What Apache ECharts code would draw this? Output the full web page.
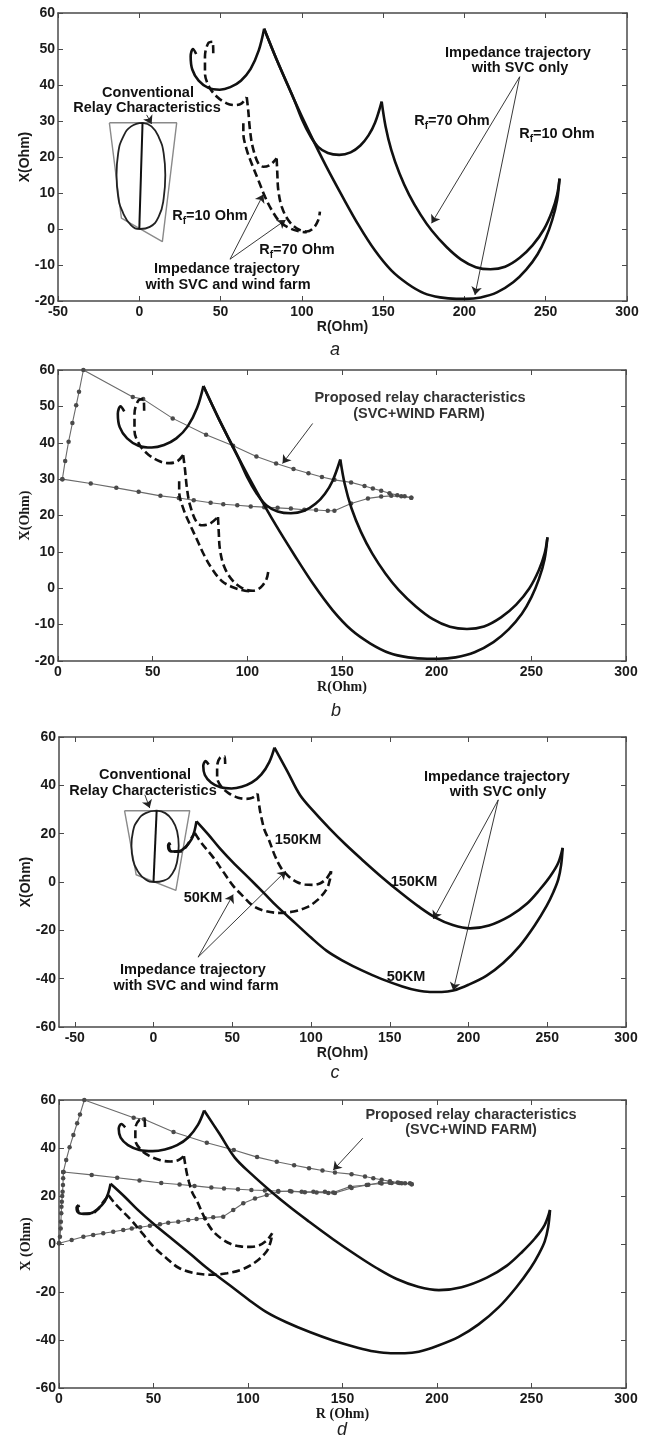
<!DOCTYPE html>
<html>
<head>
<meta charset="utf-8">
<script src="https://cdn.jsdelivr.net/npm/echarts@6/dist/echarts.min.js"></script>
<style>
  html, body { margin: 0; padding: 0; background: #fff; }
  #chart { width: 656px; height: 1445px; }
</style>
</head>
<body>
<div id="chart"></div>
<script>
// ---- trajectories of panels a / b (Rf = 10 and 70 Ohm) ----
var solidHook = [[35,48.6],[33,50],[31.6,48],[32.6,44.3],[36.5,41.2],[42.5,39.2],[49.5,38.7],[56,39.4],[62.5,41.2],[68.5,44.5],[73.5,49.6],[76.8,55.6]];
var svcRf10 = [[76.8,55.6],[85,46.5],[95,36.2],[105,26.5],[115,17.4],[125,9],[135,1],[145,-6],[155,-11.5],[165,-15.2],[175,-17.8],[185,-19],[195,-19.4],[201,-19.4],[210,-19],[220,-17.6],[230,-14.8],[238,-11.3],[245,-7],[250,-2.5],[254,2.5],[257,8],[258.5,14]];
var svcRf70a = [[76.8,55.6],[85,46.5],[95,36.2],[100,30.5],[105,26],[110,22.8],[116,21.1],[123,20.6],[130,21.3],[136,23.2],[141,26],[145,29.5],[149.1,35.4]];
var svcRf70b = [[149.1,35.4],[151.5,28.5],[155,22],[160,15.5],[166,9.5],[173,4],[180,-0.5],[189,-5],[198,-8.5],[207,-10.6],[216,-11.2],[225,-10.5],[234,-8],[242,-4.5],[249,0],[254,5],[257,9.5],[258.5,14]];
var dashHook = [[45.5,48.8],[45.1,52],[42.4,51.6],[40.4,47.9],[40.4,43.3],[43,39.5],[47.6,36.8],[53.7,34.9],[58.9,34.4],[63,34.9],[66.1,36.6]];
var windRf70a = [[66.1,36.6],[67,33],[68.1,27.5],[69.7,22.9],[73.2,18.2],[76.3,17.3],[80.4,17.8],[84.5,19.6]];
var windRf70b = [[84.5,19.6],[84.9,15.5],[85.5,10.8],[87.6,6.2],[91.6,2.5],[96.8,0.2],[102.9,-0.7],[107,0.2],[110.1,2.5],[111.1,4.8]];
var windRf10 = [[64,29.4],[64,26.6],[66.1,22],[69.1,18.2],[73.2,13.6],[77.3,9],[81.4,5.3],[86.5,2],[92.7,0.2],[98.8,-0.7],[103,-0.9]];

// ---- trajectories of panels c / d (50 km and 150 km) ----
var km150Solid = [[76.8,55.6],[85,45.8],[93,36],[102,29],[112,22],[122,15.5],[132,9.5],[145,2],[158,-5],[168,-10],[178.7,-14.6],[190,-17.8],[201,-19.2],[213,-18],[226.4,-14],[237,-9],[245.4,-3],[252,2.5],[257,8],[259.8,14.2]];
var km50Hook = [[10.4,16.2],[9.3,15.2],[9.6,13.6],[12,12.6],[16.7,12.8],[20.5,14.6],[24.1,17.6],[26,21],[27.3,25.1]];
var km50Solid = [[27.3,25.1],[35,19.5],[42,14],[50.6,8],[60,2],[70,-4.5],[78.1,-9.9],[90,-17],[100,-23],[110,-28.5],[120,-32.5],[133,-36.8],[145,-40.2],[158,-43.2],[167,-44.8],[175.5,-45.5],[183,-45.5],[190.3,-44.9],[200,-42.5],[211.5,-38.7],[222,-33.5],[232.7,-26.3],[242,-18],[249.6,-9.9],[254,-4],[257,1.1],[258.8,7],[259.8,14]];
var km150Dash = [[66.1,36.6],[67.5,30],[68.8,25.8],[70.5,21.5],[73.2,17.6],[77,11],[81,5.8],[85.5,2.5],[91,0],[96,-1],[101.5,-1.2],[106,-0.5],[109.5,1.2],[111.5,3],[112.8,4.5]];
var km50DashHook = [[11,16],[9.8,15.2],[10.2,13.6],[12.5,12.5],[17,12.6],[21,14.8],[23.5,17.6],[26.2,20.3]];
var km50Dash = [[26.2,20.3],[30,16.5],[37.9,10.2],[44,4.5],[50.6,-1.6],[57,-6],[63.3,-9.9],[71,-12],[80.3,-12.8],[89,-12.2],[97.2,-10.5],[104,-7.5],[109.9,-3],[112,1],[112.8,4.5]];

// ---- conventional relay characteristic ----
var mhoTrap = [[-18.4,29.5],[23,29.5],[14.2,-3.5],[-11,3],[-18.4,29.5]];
var mhoCircle = [[2,29.5],[7.5,28.5],[12,25.5],[15,21],[16,15],[15,8.5],[12,3.5],[6.5,0.6],[0.5,0],[-5,1],[-10,4.5],[-13,9],[-14,15],[-13,21],[-10,25.5],[-5,28.5],[2,29.5]];
var mhoLine = [[0,0],[2,29.5]];

// ---- proposed relay characteristic (SVC + wind farm) ----
var relayTop = [[2.3,30],[3.8,35],[5.6,40.3],[7.6,45.4],[9.6,50.3],[11.1,54],[13.4,60],[39.5,52.6],[45,52],[60.6,46.7],[78.2,42.2],[92.5,39.2],[104.8,36.2],[115.2,34.3],[124.4,32.8],[132.3,31.6],[139.4,30.6],[146,29.8],[154.8,29.1],[161.9,28.1],[166.3,27.4],[170.7,26.8],[175.1,26.1],[179.2,25.6],[183.1,25.3],[186.6,24.9]];
var relayMid = [[2.3,30],[17.3,28.8],[30.8,27.6],[42.6,26.5],[54.1,25.4],[63.8,24.8],[71.7,24.2],[80.6,23.5],[87.3,23.1],[94.7,22.8],[101.8,22.5],[108.9,22.3],[116,22.1],[123,21.9],[130.1,21.6],[136.3,21.5],[142.5,21.3],[146,21.3],[154.8,23.3],[163.7,24.7],[170.7,25.2],[176,25.4],[181.3,25.3],[186.6,24.9]];
var relayLow = [[0,0.3],[6.7,1.7],[12.9,3],[18.1,3.8],[23.4,4.5],[28.7,5.1],[34,5.8],[38.5,6.5],[42.9,7],[48.1,7.6],[53.4,8.2],[57.8,8.9],[63.1,9.3],[68.4,10],[72.8,10.4],[77.2,10.7],[81.6,11.1],[86.9,11.4],[92.2,14.2],[97.5,17],[103.7,19],[109.9,20.4],[116,21.8],[122.2,22.1],[128.4,21.8],[134.6,21.8],[140.7,21.8],[145.1,21.5],[154,23.9],[162.8,24.6],[169.8,25.5],[175,25.5],[180,25.4],[185.7,25.3]];
var relayAxis = [[0,0.3],[0.5,3],[0.9,6.5],[1,9.3],[1.2,12.8],[1.3,15.5],[1.5,17.6],[1.7,20],[1.9,21.8],[2.1,24.6],[2.2,27.4],[2.3,30]];

// ---- annotation arrows [from, to] in data units ----
var arrowsA = [[[4.5,31.7],[7.6,29.2]], [[234,42.3],[179.8,1.6]], [[234,42.3],[206.5,-18.3]], [[55.8,-8.4],[76.3,9.6]], [[55.8,-8.4],[90,2.5]]];
var arrowsB = [[[134.5,45.3],[118.6,34.3]]];
var arrowsC = [[[-5.5,36.1],[-2.4,30.6]], [[28.3,-31.1],[50.6,-5.2]], [[28.3,-31.1],[84,4.5]], [[218.9,34],[177.7,-15.3]], [[218.9,34],[190.3,-44.9]]];
var arrowsD = [[[160.7,44.1],[145.1,30.8]]];

// ---- axes ----
var xTicksC = [-50, 0, 50, 100, 150, 200, 250, 300];

var SANS = '"Liberation Sans", Arial, sans-serif';
var SERIF = '"Liberation Serif", "Times New Roman", serif';

var grids = [
  { left: 58, top: 13, width: 569, height: 288 },
  { left: 58, top: 370, width: 568, height: 291 },
  { left: 59, top: 737, width: 567, height: 290 },
  { left: 59, top: 1100, width: 567, height: 288 }
];
var xRanges = [
  { min: -50, max: 300, interval: 50 },
  { min: 0, max: 300, interval: 50 },
  { min: -60, max: 300, custom: xTicksC },
  { min: 0, max: 300, interval: 50 }
];
var yRanges = [
  { min: -20, max: 60, interval: 10 },
  { min: -20, max: 60, interval: 10 },
  { min: -60, max: 60, interval: 20 },
  { min: -60, max: 60, interval: 20 }
];
var xNames = ['R(Ohm)', 'R(Ohm)', 'R(Ohm)', 'R (Ohm)'];
var yNames = ['X(Ohm)', 'X(Ohm)', 'X(Ohm)', 'X (Ohm)'];
var nameFonts = [SANS, SERIF, SANS, SERIF];

var lineCol = '#4a4a4a';
var xAxes = [], yAxes = [];
grids.forEach(function (g, i) {
  var xr = xRanges[i], yr = yRanges[i];
  var tick = { show: true, inside: true, length: 5, lineStyle: { color: lineCol, width: 1 } };
  var xb = {
    type: 'value', gridIndex: i, position: 'bottom', min: xr.min, max: xr.max,
    axisLine: { show: true, onZero: false, lineStyle: { color: lineCol, width: 1.5 } },
    axisTick: Object.assign({}, tick),
    splitLine: { show: false },
    axisLabel: { show: true, margin: 4, color: '#1a1a1a', fontSize: 14, fontWeight: 'bold', fontFamily: SANS, showMinLabel: true, showMaxLabel: true },
    name: xNames[i], nameLocation: 'middle', nameGap: 19,
    nameTextStyle: { color: '#1a1a1a', fontSize: 14, fontWeight: 'bold', fontFamily: nameFonts[i] }
  };
  var xt = {
    type: 'value', gridIndex: i, position: 'top', min: xr.min, max: xr.max,
    axisLine: { show: true, onZero: false, lineStyle: { color: lineCol, width: 1.5 } },
    axisTick: Object.assign({}, tick), axisLabel: { show: false }, splitLine: { show: false }
  };
  if (xr.custom) {
    xb.axisTick.customValues = xr.custom;
    xb.axisLabel.customValues = xr.custom;
    xt.axisTick.customValues = xr.custom;
  } else {
    xb.interval = xr.interval;
    xt.interval = xr.interval;
  }
  xAxes.push(xb, xt);
  yAxes.push({
    type: 'value', gridIndex: i, position: 'left', min: yr.min, max: yr.max, interval: yr.interval,
    axisLine: { show: true, onZero: false, lineStyle: { color: lineCol, width: 1.5 } },
    axisTick: Object.assign({}, tick), splitLine: { show: false },
    axisLabel: { show: true, margin: 3, color: '#1a1a1a', fontSize: 14, fontWeight: 'bold', fontFamily: SANS, showMinLabel: true, showMaxLabel: true },
    name: yNames[i], nameLocation: 'middle', nameGap: 26, nameRotate: 90, nameMoveOverlap: false,
    nameTextStyle: { color: '#1a1a1a', fontSize: 14, fontWeight: 'bold', fontFamily: nameFonts[i] }
  }, {
    type: 'value', gridIndex: i, position: 'right', min: yr.min, max: yr.max, interval: yr.interval,
    axisLine: { show: true, onZero: false, lineStyle: { color: lineCol, width: 1.5 } },
    axisTick: Object.assign({}, tick), axisLabel: { show: false }, splitLine: { show: false }
  });
});

// ---- series helpers ----
function curve(i, data, dashed) {
  return {
    type: 'line', xAxisIndex: i * 2, yAxisIndex: i * 2, data: data,
    symbol: 'none', smooth: 0.35, silent: true, z: 5,
    lineStyle: { color: '#111', width: 2.6, type: dashed ? [8, 4] : 'solid', cap: 'butt' }
  };
}
function thin(i, data, color, width, smooth) {
  return {
    type: 'line', xAxisIndex: i * 2, yAxisIndex: i * 2, data: data,
    symbol: 'none', smooth: smooth || false, silent: true, z: 3,
    lineStyle: { color: color, width: width }
  };
}
function dotted(i, data) {
  return {
    type: 'line', xAxisIndex: i * 2, yAxisIndex: i * 2, data: data,
    symbol: 'circle', symbolSize: 4.5, showAllSymbol: true, silent: true, z: 4,
    itemStyle: { color: '#4a4a4a' },
    lineStyle: { color: '#6a6a6a', width: 1.1 }
  };
}
function arrows(i, list) {
  return {
    type: 'line', xAxisIndex: i * 2, yAxisIndex: i * 2, data: [], silent: true,
    markLine: {
      silent: true, symbol: ['none', 'arrow'], symbolSize: 8, animation: false,
      label: { show: false },
      lineStyle: { color: '#222', width: 0.9, type: 'solid' },
      data: list.map(function (p) { return [{ coord: p[0] }, { coord: p[1] }]; })
    }
  };
}

var series = [];
// panel a
series.push(thin(0, mhoTrap, '#8a8a8a', 1.4), thin(0, mhoCircle, '#222', 1.8, 0.5), thin(0, mhoLine, '#111', 2));
series.push(curve(0, solidHook), curve(0, svcRf10), curve(0, svcRf70a), curve(0, svcRf70b));
series.push(curve(0, dashHook, true), curve(0, windRf70a, true), curve(0, windRf70b, true), curve(0, windRf10, true));
series.push(arrows(0, arrowsA));
// panel b
series.push(dotted(1, relayTop), dotted(1, relayMid));
series.push(curve(1, solidHook), curve(1, svcRf10), curve(1, svcRf70a), curve(1, svcRf70b));
series.push(curve(1, dashHook, true), curve(1, windRf70a, true), curve(1, windRf70b, true), curve(1, windRf10, true));
series.push(arrows(1, arrowsB));
// panel c
series.push(thin(2, mhoTrap, '#8a8a8a', 1.4), thin(2, mhoCircle, '#222', 1.8, 0.5), thin(2, mhoLine, '#111', 2));
series.push(curve(2, solidHook), curve(2, km150Solid), curve(2, km50Hook), curve(2, km50Solid));
series.push(curve(2, dashHook, true), curve(2, km150Dash, true), curve(2, km50DashHook, true), curve(2, km50Dash, true));
series.push(arrows(2, arrowsC));
// panel d
series.push(dotted(3, relayTop), dotted(3, relayMid), dotted(3, relayLow), dotted(3, relayAxis));
series.push(curve(3, solidHook), curve(3, km150Solid), curve(3, km50Hook), curve(3, km50Solid));
series.push(curve(3, dashHook, true), curve(3, km150Dash, true), curve(3, km50DashHook, true), curve(3, km50Dash, true));
series.push(arrows(3, arrowsD));

// ---- text annotations ----
var LBL = 'bold 14.5px ' + SANS;
function txt(x, y, s, font, color) {
  return { type: 'text', x: x, y: y, silent: true, z: 20,
    style: { text: s, font: font || LBL, fill: color || '#111', align: 'center', verticalAlign: 'middle' } };
}
function rfTxt(x, y, val) {
  return { type: 'text', x: x, y: y, silent: true, z: 20,
    style: {
      text: '{n|R}{s|f}{n|=' + val + ' Ohm}', align: 'center', verticalAlign: 'middle',
      rich: {
        n: { fontSize: 14.5, fontWeight: 'bold', fontFamily: SANS, fill: '#111', verticalAlign: 'top' },
        s: { fontSize: 10, fontWeight: 'bold', fontFamily: SANS, fill: '#111', verticalAlign: 'top', padding: [8, 0, 0, 0] }
      }
    } };
}
var capFont = 'italic 18px ' + SANS;
var graphic = [
  txt(148, 93, 'Conventional'), txt(147, 108, 'Relay Characteristics'),
  txt(518, 53, 'Impedance trajectory'), txt(520, 68, 'with SVC only'),
  rfTxt(452, 122, 70), rfTxt(557, 135, 10), rfTxt(210, 217, 10), rfTxt(297, 251, 70),
  txt(227, 269, 'Impedance trajectory'), txt(228, 285, 'with SVC and wind farm'),
  txt(335, 350, 'a', capFont, '#222'),

  txt(420, 398, 'Proposed relay characteristics', null, '#333'), txt(419, 414, '(SVC+WIND FARM)', null, '#333'),
  txt(336, 711, 'b', capFont, '#222'),

  txt(145, 775, 'Conventional'), txt(143, 791, 'Relay Characteristics'),
  txt(298, 840, '150KM'), txt(203, 898, '50KM'),
  txt(193, 970, 'Impedance trajectory'), txt(196, 986, 'with SVC and wind farm'),
  txt(497, 777, 'Impedance trajectory'), txt(498, 792, 'with SVC only'),
  txt(414, 882, '150KM'), txt(406, 977, '50KM'),
  txt(335, 1073, 'c', capFont, '#222'),

  txt(471, 1115, 'Proposed relay characteristics', null, '#333'), txt(471, 1130, '(SVC+WIND FARM)', null, '#333'),
  txt(342, 1430, 'd', capFont, '#222')
];

var chart = echarts.init(document.getElementById('chart'), null, { renderer: 'canvas' });
chart.setOption({
  animation: false,
  backgroundColor: '#fff',
  grid: grids,
  xAxis: xAxes,
  yAxis: yAxes,
  series: series,
  graphic: graphic
});
</script>
</body>
</html>
